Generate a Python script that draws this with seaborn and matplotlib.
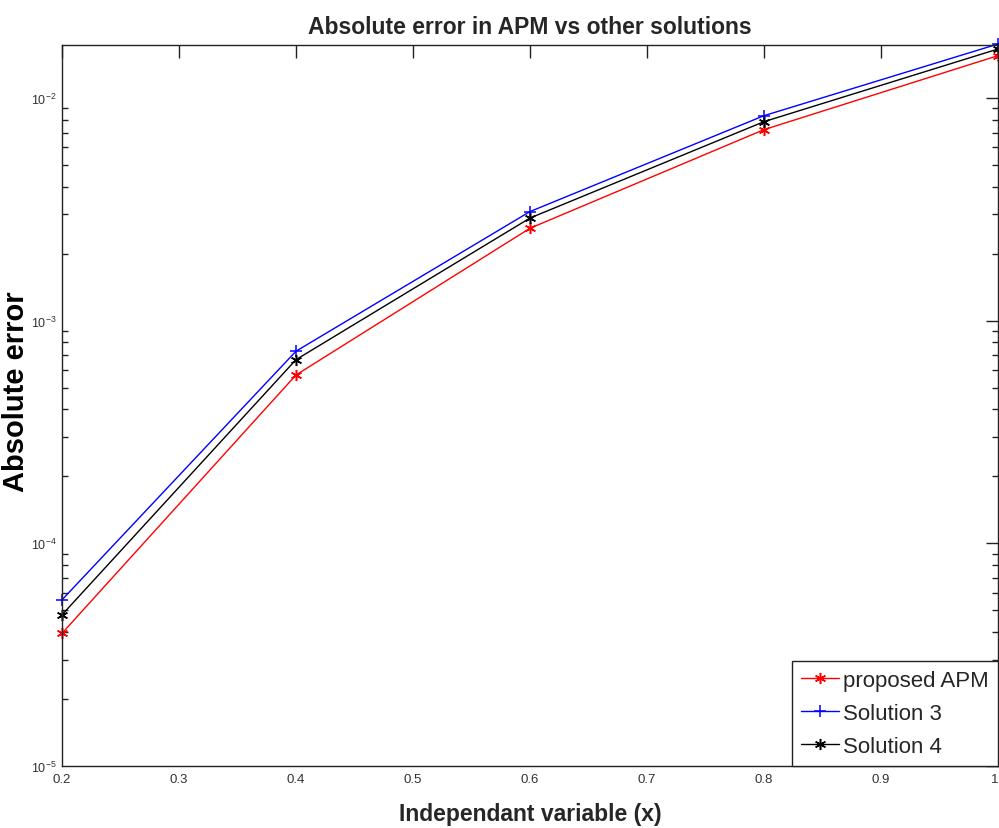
import matplotlib
matplotlib.use("Agg")
import matplotlib.pyplot as plt
import seaborn as sns
import pandas as pd
from matplotlib.ticker import LogLocator, NullFormatter, FixedLocator

x_vals = [0.2, 0.4, 0.6, 0.8, 1.0]
proposed_apm = [3.94e-5, 5.70e-4, 2.60e-3, 7.21e-3, 1.55e-2]
solution_3 = [5.57e-5, 7.29e-4, 3.09e-3, 8.33e-3, 1.748e-2]
solution_4 = [4.77e-5, 6.68e-4, 2.89e-3, 7.83e-3, 1.66e-2]
series_names = ["proposed APM", "Solution 3", "Solution 4"]
x_ticks = [0.2, 0.3, 0.4, 0.5, 0.6, 0.7, 0.8, 0.9, 1.0]
x_tick_labels = ["0.2", "0.3", "0.4", "0.5", "0.6", "0.7", "0.8", "0.9", "1"]

sns.set_theme(style="white")
fam = ["Liberation Sans", "DejaVu Sans"]
plt.rcParams["font.family"] = fam
plt.rcParams["axes.unicode_minus"] = False

fig = plt.figure(figsize=(9.99, 8.29), dpi=100)
ax = fig.add_axes([0.062, 0.0748, 0.937, 0.8697])

asterisk = (6, 2, 0)
colors = ["#ff0000", "#0000ff", "#000000"]
marker_list = [asterisk, "+", asterisk]
for name, vals, c, m in zip(series_names, [proposed_apm, solution_3, solution_4], colors, marker_list):
    d = pd.DataFrame({"x": x_vals, "y": vals})
    sns.lineplot(data=d, x="x", y="y", color=c, marker=m, ax=ax, label=name,
                 linewidth=1.0, sort=False, markersize=8, markeredgewidth=1.1,
                 markeredgecolor=c, markerfacecolor=c, clip_on=False)

ax.set_yscale("log")
ax.set_xlim(0.2, 1.0)
ax.set_ylim(1e-5, 1.73e-2)

ax.xaxis.set_major_locator(FixedLocator(x_ticks))
ax.set_xticklabels(x_tick_labels)
ax.yaxis.set_major_locator(LogLocator(base=10, numticks=10))
ax.yaxis.set_minor_locator(LogLocator(base=10, subs=range(2, 10), numticks=20))
ax.yaxis.set_minor_formatter(NullFormatter())

ax.tick_params(axis="both", which="major", direction="in", length=9, width=1,
               top=True, right=True, labelsize=9.5, labelcolor="#333333", color="#222222",
               pad=5)
ax.tick_params(axis="y", which="major", labelsize=9, pad=4)
ax.tick_params(axis="y", which="minor", direction="in", length=4.5, width=1,
               right=True, left=True, color="#222222")
ax.get_xticklabels()[-1].set_horizontalalignment("right")
for s in ax.spines.values():
    s.set_color("#222222")
    s.set_linewidth(1.0)
    s.set_visible(True)

ax.set_title("Absolute error in APM vs other solutions", fontsize=16.5,
             fontweight="bold", pad=9)
ax.set_xlabel("Independant variable (x)", fontsize=16.5, fontweight="bold", labelpad=12)
ax.set_ylabel("Absolute error", fontsize=21, fontweight="bold", color="black")
ax.yaxis.set_label_coords(-0.034, 0.52)

leg = ax.legend(loc="lower right", frameon=True, fancybox=False,
                handlelength=1.7, handletextpad=0.2, borderpad=0.4, labelspacing=0.55,
                borderaxespad=0.0, prop={"family": fam, "size": 16})
leg.get_frame().set_edgecolor("#222222")
leg.get_frame().set_linewidth(1.0)
leg.get_frame().set_alpha(1)
leg.set_zorder(5)

fig.savefig("out.png", dpi=100)
